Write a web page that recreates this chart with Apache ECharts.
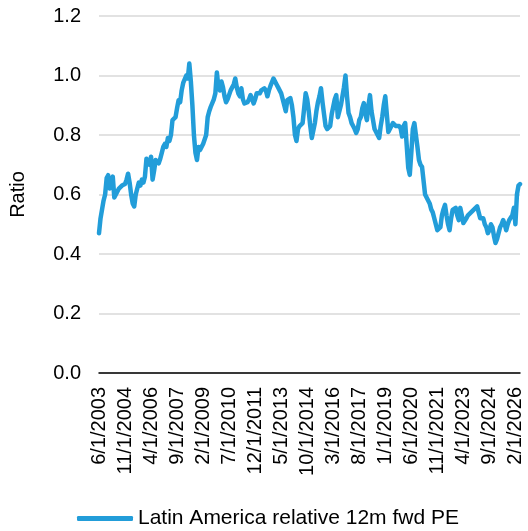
<!DOCTYPE html>
<html>
<head>
<meta charset="utf-8">
<script src="https://cdn.jsdelivr.net/npm/echarts@6/dist/echarts.min.js"></script>
<style>
  html, body { margin: 0; padding: 0; background: #fff; }
  #chart { width: 528px; height: 531px; }
</style>
</head>
<body>
<div id="chart"></div>
<script>
// Monthly series, first month June 2003
const startYear = 2003;
const startMonth = 6;

const seriesName = 'Latin America relative 12m fwd PE';
const axisName = 'Ratio';
const yTicks = [0, 0.2, 0.4, 0.6, 0.8, 1.0, 1.2];

// Relative 12m forward PE, one value per month
const ratio = [
  // 2003 (Jun-Dec)
  0.47, 0.52, 0.55, 0.58, 0.60, 0.655, 0.665,
  // 2004
  0.62, 0.64, 0.66, 0.59, 0.60, 0.61, 0.62, 0.625, 0.63, 0.63, 0.635, 0.65,
  // 2005
  0.67, 0.64, 0.60, 0.57, 0.56, 0.60, 0.62, 0.64, 0.63, 0.65, 0.64, 0.66,
  // 2006
  0.72, 0.71, 0.70, 0.727, 0.65, 0.68, 0.716, 0.71, 0.705, 0.72, 0.74, 0.76,
  // 2007
  0.77, 0.76, 0.79, 0.78, 0.80, 0.85, 0.85, 0.86, 0.89, 0.917, 0.91, 0.95,
  // 2008
  0.975, 0.98, 1.0, 0.99, 1.04, 0.98, 0.90, 0.80, 0.74, 0.716, 0.76, 0.75,
  // 2009
  0.76, 0.77, 0.766, 0.80, 0.86, 0.88, 0.895, 0.89, 0.92, 0.94, 1.01, 0.96,
  // 2010
  0.95, 0.98, 0.96, 0.93, 0.91, 0.92, 0.92, 0.95, 0.96, 0.97, 0.99, 0.96,
  // 2011
  0.94, 0.93, 0.957, 0.92, 0.906, 0.91, 0.91, 0.92, 0.934, 0.92, 0.906, 0.92,
  // 2012
  0.94, 0.946, 0.94, 0.95, 0.95, 0.957, 0.95, 0.93, 0.95, 0.965, 0.97, 0.99,
  // 2013
  0.98, 0.97, 0.96, 0.95, 0.94, 0.92, 0.90, 0.88, 0.917, 0.92, 0.924, 0.90,
  // 2014
  0.86, 0.80, 0.78, 0.82, 0.83, 0.83, 0.84, 0.89, 0.94, 0.92, 0.88, 0.83,
  // 2015
  0.79, 0.785, 0.84, 0.88, 0.91, 0.93, 0.957, 0.91, 0.87, 0.83, 0.82, 0.82,
  // 2016
  0.83, 0.87, 0.895, 0.92, 0.934, 0.86, 0.88, 0.90, 0.93, 0.96, 1.0, 0.93,
  // 2017
  0.874, 0.86, 0.84, 0.83, 0.82, 0.807, 0.82, 0.85, 0.86, 0.89, 0.907, 0.87,
  // 2018
  0.85, 0.90, 0.934, 0.88, 0.85, 0.82, 0.81, 0.80, 0.79, 0.83, 0.86, 0.90,
  // 2019
  0.93, 0.87, 0.81, 0.807, 0.83, 0.84, 0.84, 0.83, 0.827, 0.83, 0.823, 0.795,
  // 2020
  0.83, 0.84, 0.84, 0.69, 0.666, 0.74, 0.82, 0.84, 0.80, 0.76, 0.716, 0.70,
  // 2021
  0.693, 0.69, 0.60, 0.59, 0.58, 0.57, 0.55, 0.54, 0.52, 0.50, 0.48, 0.48,
  // 2022
  0.49, 0.53, 0.55, 0.565, 0.53, 0.50, 0.48, 0.52, 0.548, 0.55, 0.555, 0.53,
  // 2023
  0.514, 0.555, 0.53, 0.504, 0.51, 0.52, 0.53, 0.53, 0.54, 0.54, 0.55, 0.55,
  // 2024
  0.56, 0.54, 0.52, 0.52, 0.52, 0.50, 0.49, 0.47, 0.48, 0.50, 0.49, 0.46,
  // 2025
  0.437, 0.45, 0.47, 0.49, 0.50, 0.514, 0.50, 0.48, 0.50, 0.514, 0.52, 0.53,
  // 2026 (Jan-May)
  0.555, 0.50, 0.60, 0.63, 0.635
];

// Category labels in M/1/YYYY form, one per month
const dates = ratio.map((_, i) => {
  const m0 = startMonth - 1 + i;
  const y = startYear + Math.floor(m0 / 12);
  const m = (m0 % 12) + 1;
  return m + '/1/' + y;
});

const FONT = '"Liberation Sans", Arial, sans-serif';
const LINE_COLOR = '#229dd9';

const chart = echarts.init(document.getElementById('chart'), null, { renderer: 'canvas' });

chart.setOption({
  animation: false,
  backgroundColor: '#ffffff',
  grid: { left: 97, right: 8, top: 16, bottom: 158, containLabel: false },
  legend: {
    data: [seriesName],
    left: 72,
    top: 503,
    icon: 'roundRect',
    itemWidth: 56,
    itemHeight: 5,
    textStyle: { fontFamily: FONT, fontSize: 21, color: '#000' }
  },
  xAxis: {
    type: 'category',
    data: dates,
    boundaryGap: false,
    axisLine: { show: true, lineStyle: { color: '#000', width: 1.5 } },
    axisTick: { show: false },
    axisLabel: {
      interval: 16,
      rotate: 90,
      margin: 14,
      fontFamily: FONT,
      fontSize: 20,
      color: '#000'
    },
    splitLine: { show: false }
  },
  yAxis: {
    type: 'value',
    min: yTicks[0],
    max: yTicks[yTicks.length - 1],
    interval: 0.2,
    name: axisName,
    nameLocation: 'middle',
    nameGap: 71,
    nameRotate: 90,
    nameTextStyle: { fontFamily: FONT, fontSize: 20, color: '#000' },
    axisLine: { show: false },
    axisTick: { show: false },
    axisLabel: {
      margin: 18,
      fontFamily: FONT,
      fontSize: 20,
      color: '#000',
      formatter: v => v.toFixed(1)
    },
    splitLine: { show: true, lineStyle: { color: '#d9d9d9', width: 1.5 } }
  },
  series: [{
    name: seriesName,
    type: 'line',
    data: ratio,
    showSymbol: false,
    symbol: 'none',
    smooth: false,
    itemStyle: { color: LINE_COLOR },
    lineStyle: { color: LINE_COLOR, width: 4.5, cap: 'round', join: 'round' }
  }]
});
</script>
</body>
</html>
